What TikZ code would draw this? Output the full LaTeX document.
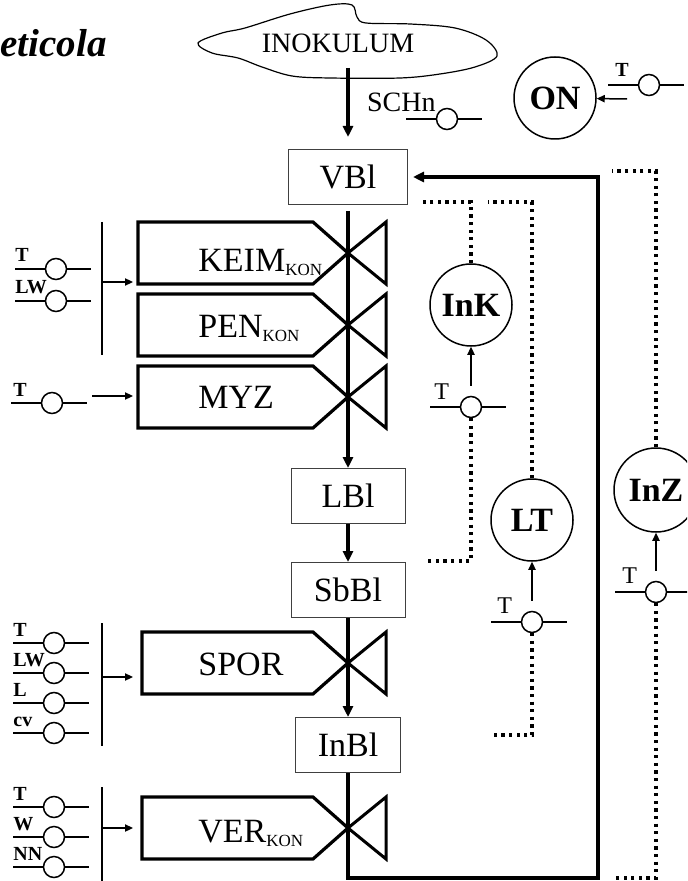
\documentclass[tikz,border=0pt]{standalone}
\usepackage{fontspec}
\setmainfont{Liberation Serif}
\usetikzlibrary{arrows.meta,calc,positioning}
\tikzset{
  flowarr/.style={-{Triangle[length=5.5pt,width=5pt]}, line width=2pt},
  thinarr/.style={-{Triangle[length=4pt,width=3.6pt]}, line width=0.75pt},
  dotln/.style={line width=1.6pt, dash pattern=on 1.6pt off 2.2pt},
  swline/.style={line width=0.75pt},
  swc/.style={circle, draw, fill=white, line width=0.75pt, minimum size=10.5pt, inner sep=0pt},
}
% switch symbol: line with a small open circle
\newcommand{\switchsym}[2]{%
  \draw[swline] (#2) ++(-41,0) -- ++(76,0);
  \node[swc] (#1) at (#2) {};
}
% process box pointing into a valve on the main column
\newcommand{\procbox}[5]{%
  \coordinate (#1) at (#3,#2);
  \coordinate (#1tip) at (348,#2);
  \draw[procline] (#1tip) -- (313,#2-31) -- (#3,#2-31) -- (#3,#2+31) -- (313,#2+31) -- cycle;
  \draw[valveline] (#1tip) -- ++(38,-31) -- ++(0,62) -- cycle;
  \node[proclbl] (#1lbl) at (198,#4) {#5};
}
\newcommand{\kon}{\raisebox{-2pt}{\fontsize{8.5}{9}\selectfont KON}}

\begin{document}
\begin{tikzpicture}[
  x=0.5pt, y=-0.5pt,
  blk/.style={draw=black!75, line width=0.5pt, minimum width=57pt, minimum height=27.5pt, inner sep=0pt, font=\fontsize{17}{20}\selectfont},
  modc/.style={circle, draw, line width=0.75pt, minimum size=41pt, inner sep=0pt, font=\bfseries\fontsize{17}{20}\selectfont},
  procline/.style={line width=1.6pt, line join=miter},
  valveline/.style={line width=1.5pt, line join=miter},
  proclbl/.style={anchor=base west, inner sep=0pt, font=\fontsize{17}{20}\selectfont},
  swlbl/.style={anchor=base west, inner sep=0pt, font=\bfseries\fontsize{10}{12}\selectfont},
  swlblr/.style={swlbl, font=\fontsize{12}{14}\selectfont},
]
  \useasboundingbox (0,0) rectangle (687,881);
  \clip (0,0) rectangle (687,881);

  \node[anchor=base west, inner sep=0pt, font=\bfseries\itshape\fontsize{19.5}{22}\selectfont] (title) at (0,57) {eticola};

  % source
  \draw[line width=0.6pt] plot[smooth cycle, tension=0.55] coordinates {(198,43) (222,33) (245,28) (290,14) (330,5) (352,5) (357,17) (366,23) (410,24) (455,28) (486,40) (497,56) (475,67) (440,74) (400,78) (330,78) (292,76) (262,67) (238,58) (212,53)};
  \node[font=\fontsize{14}{16}\selectfont] (inok) at (338,43) {INOKULUM};
  \coordinate (inokb) at (348,68);

  \switchsym{schn}{447,119}
  \node[anchor=base east, inner sep=0pt, font=\fontsize{14}{16}\selectfont] (schnl) at (436,112) {SCHn};

  \node[modc] (on) at (555,98) {ON};
  \switchsym{onT}{649,85}
  \node[swlbl] (onTl) at (615,77) {T};
  \coordinate (onin) at (627,99);
  \draw[thinarr] (onin) -- (on);

  % process boxes and valves
  \procbox{keim}{253}{138}{272}{KEIM\kon}
  \procbox{pen}{325}{138}{337}{PEN\kon}
  \procbox{myz}{397}{138}{408}{MYZ}
  \procbox{spor}{663}{142}{675}{SPOR}
  \procbox{ver}{828}{142}{842}{VER\kon}

  % main column
  \node[blk, minimum width=59.5pt] (vbl) at (348,177) {VBl};
  \node[blk, below=131.5pt of vbl] (lbl) {LBl};
  \node[blk, below=19pt of lbl] (sbbl) {SbBl};
  \node[blk, minimum width=52.5pt, below=49.5pt of sbbl] (inbl) {InBl};

  \draw[flowarr, shorten >=6pt] (inokb) -- (vbl);
  \draw[flowarr, shorten <=3pt] (vbl) -- (lbl);
  \draw[flowarr] (lbl) -- (sbbl);
  \draw[flowarr] (sbbl) -- (inbl);
  \coordinate (loopbr) at (598,878);
  \draw[flowarr, shorten >=2.5pt] (inbl) |- (loopbr) |- (vbl);

  % inputs KEIM / PEN
  \foreach \n/\y/\t in {a/269/T, b/301/LW} {
    \switchsym{ka\n}{56,\y}
    \node[swlbl] (kal\n) at (15,\y-7) {\t};
  }
  \draw[swline] (102,222) -- (102,355);
  \coordinate (bar1) at (102,282);
  \draw[thinarr, shorten >=2.5pt] (bar1) -- (bar1 -| keim);

  % input MYZ
  \switchsym{myzT}{52,403}
  \node[swlbl] (myzTl) at (13,396) {T};
  \coordinate (myzin) at (92,396);
  \draw[thinarr, shorten >=2.5pt] (myzin) -- (myzin -| myz);

  % inputs SPOR
  \foreach \n/\y/\t in {a/643/T, b/673/LW, c/703/L, d/733/cv} {
    \switchsym{sp\n}{54,\y}
    \node[swlbl] (spl\n) at (13,\y-7) {\t};
  }
  \draw[swline] (102,623) -- (102,746);
  \coordinate (bar2) at (102,677);
  \draw[thinarr, shorten >=4.5pt] (bar2) -- (bar2 -| spor);

  % inputs VER
  \foreach \n/\y/\t in {a/807/T, b/837/W, c/867/NN} {
    \switchsym{ve\n}{54,\y}
    \node[swlbl] (vel\n) at (13,\y-7) {\t};
  }
  \draw[swline] (102,787) -- (102,881);
  \coordinate (bar3) at (102,828);
  \draw[thinarr, shorten >=4.5pt] (bar3) -- (bar3 -| ver);

  % rate modules
  \node[modc] (ink) at (471,305) {InK};
  \switchsym{inkT}{471,407}
  \node[swlblr] (inkTl) at (434,399) {T};
  \draw[thinarr, shorten <=5pt] (inkT) -- (ink);

  \node[modc] (lt) at (532,520) {LT};
  \switchsym{ltT}{532,622}
  \node[swlblr] (ltTl) at (497,613) {T};
  \draw[thinarr, shorten <=5pt] (ltT) -- (lt);

  \node[modc, minimum size=42pt] (inz) at (656,490) {InZ};
  \switchsym{inzT}{656,592}
  \node[swlblr] (inzTl) at (622,583) {T};
  \draw[thinarr, shorten <=5pt] (inzT) -- (inz);

  % dotted control lines
  \coordinate (dk1) at (422,202);
  \coordinate (dk2) at (488,202);
  \coordinate (dk3) at (427,561);
  \coordinate (dk4) at (491,735);
  \coordinate (dk5) at (612,171);
  \coordinate (dk6) at (613,878);
  \draw[dotln] (ink.north) |- (dk1);
  \draw[dotln] (lt.north) |- (dk2);
  \draw[dotln] (inkT.south) |- (dk3);
  \draw[dotln] (ltT.south) |- (dk4);
  \draw[dotln] (inz.north) |- (dk5);
  \draw[dotln] (inzT.south) |- (dk6);
\end{tikzpicture}
\end{document}
